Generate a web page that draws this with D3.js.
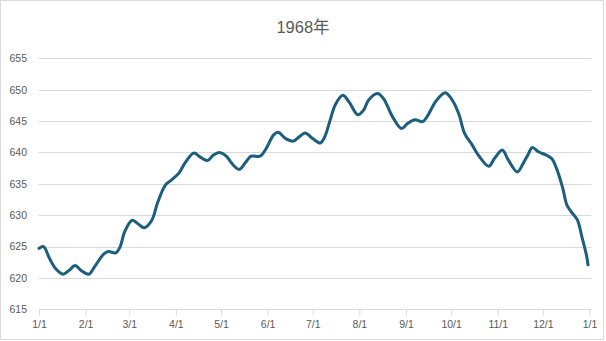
<!DOCTYPE html>
<html>
<head>
<meta charset="utf-8">
<script src="https://cdn.jsdelivr.net/npm/d3@7"></script>
<style>
  html, body { margin: 0; padding: 0; background: #fff; }
  svg { display: block; }
  text { font-family: "Liberation Sans", Arial, "Noto Sans CJK SC", sans-serif; fill: #595959; }
</style>
</head>
<body>
<svg id="chart" width="606" height="341"></svg>
<script>
// Daily series for 1968, sampled at turning points
const dates = [
  "1968-01-01","1968-01-04","1968-01-08","1968-01-12","1968-01-17","1968-01-21","1968-01-25","1968-01-29",
  "1968-02-03","1968-02-07","1968-02-13","1968-02-16","1968-02-21","1968-02-24","1968-02-27",
  "1968-03-03","1968-03-07","1968-03-11","1968-03-16","1968-03-20","1968-03-25","1968-03-29",
  "1968-04-03","1968-04-07","1968-04-13","1968-04-17","1968-04-22","1968-04-26","1968-04-30",
  "1968-05-05","1968-05-08","1968-05-13","1968-05-17","1968-05-21","1968-05-27","1968-05-31",
  "1968-06-05","1968-06-08","1968-06-13","1968-06-18","1968-06-22","1968-06-26",
  "1968-07-01","1968-07-06","1968-07-09","1968-07-13","1968-07-16","1968-07-21","1968-07-25","1968-07-31",
  "1968-08-04","1968-08-07","1968-08-13","1968-08-17","1968-08-23","1968-08-29",
  "1968-09-02","1968-09-07","1968-09-12","1968-09-15","1968-09-21","1968-09-27",
  "1968-10-01","1968-10-06","1968-10-10","1968-10-15","1968-10-19","1968-10-26","1968-10-30",
  "1968-11-04","1968-11-08","1968-11-14","1968-11-18","1968-11-21","1968-11-24","1968-11-28",
  "1968-12-03","1968-12-07","1968-12-10","1968-12-14","1968-12-17","1968-12-20","1968-12-24",
  "1968-12-27","1968-12-30","1968-12-31"
];
const values = [
  624.7, 625.0, 623.1, 621.5, 620.6, 621.2, 622.0, 621.2,
  620.6, 621.8, 623.8, 624.2, 624.0, 625.0, 627.4,
  629.2, 628.6, 628.0, 629.2, 632.1, 634.8, 635.6,
  636.7, 638.3, 639.9, 639.3, 638.7, 639.6, 640.0,
  639.3, 638.3, 637.3, 638.3, 639.4, 639.4, 640.6,
  642.8, 643.2, 642.2, 641.8, 642.5, 643.1,
  642.2, 641.5, 642.5, 645.5, 647.6, 649.1, 648.1, 646.0,
  646.8, 648.3, 649.4, 648.6, 645.7, 643.8,
  644.6, 645.2, 644.9, 645.7, 648.2, 649.5,
  648.6, 646.2, 643.0, 641.2, 639.6, 637.8, 639.1,
  640.4, 638.8, 636.9, 638.3, 639.6, 640.8, 640.1,
  639.6, 639.0, 637.5, 634.5, 631.6, 630.5, 629.2,
  626.5, 623.6, 622.1
];
const yTicks = [615, 620, 625, 630, 635, 640, 645, 650, 655];
const xTickDates = [
  "1968-01-01","1968-02-01","1968-03-01","1968-04-01","1968-05-01","1968-06-01","1968-07-01",
  "1968-08-01","1968-09-01","1968-10-01","1968-11-01","1968-12-01","1969-01-01"
];
const titleText = "1968年";

const parse = d3.timeParse("%Y-%m-%d");
const series = dates.map((d, i) => ({ date: parse(d), value: values[i] }));
const xTicks = xTickDates.map(parse);

const svg = d3.select("#chart");

// Outer chart frame
svg.append("rect")
  .attr("x", 0.5).attr("y", 0.5)
  .attr("width", 603).attr("height", 339)
  .attr("fill", "#fff").attr("stroke", "#d9d9d9");

const x = d3.scaleTime()
  .domain([parse("1968-01-01"), parse("1969-01-01")])
  .range([39, 589.5]);
const y = d3.scaleLinear().domain([615, 655]).range([309.3, 58.3]);

const gridLeft = 38.5, gridRight = 591.5;

// Horizontal gridlines
svg.append("g").selectAll("line")
  .data(yTicks.filter(t => t !== 615))
  .join("line")
  .attr("x1", gridLeft).attr("x2", gridRight)
  .attr("y1", d => Math.round(y(d)) + 0.5).attr("y2", d => Math.round(y(d)) + 0.5)
  .attr("stroke", "#d9d9d9").attr("stroke-width", 1);

// Y axis labels
const yAxis = d3.axisLeft(y).tickValues(yTicks).tickSize(0).tickPadding(0);
const gy = svg.append("g").attr("transform", "translate(27,0)").call(yAxis);
gy.select(".domain").remove();
gy.selectAll("text").attr("font-size", "10.5px").attr("fill", "#595959")
  .style("font-family", "'Liberation Sans', Arial, sans-serif");

// X axis with month ticks
const xAxis = d3.axisBottom(x).tickValues(xTicks)
  .tickFormat(d => (d.getMonth() + 1) + "/" + d.getDate())
  .tickSize(6).tickSizeOuter(0).tickPadding(5);
const gx = svg.append("g").attr("transform", `translate(0,${Math.round(y(615)) + 0.5})`).call(xAxis);
gx.select(".domain").attr("d", `M${gridLeft},0H${gridRight}`).attr("stroke", "#d9d9d9");
gx.selectAll(".tick line").attr("stroke", "#d9d9d9");
gx.selectAll("text").attr("font-size", "10.5px").attr("fill", "#595959")
  .style("font-family", "'Liberation Sans', Arial, sans-serif");

// Data line
const line = d3.line()
  .x(d => x(d.date))
  .y(d => y(d.value))
  .curve(d3.curveCatmullRom.alpha(0.5));

svg.append("path")
  .datum(series)
  .attr("d", line)
  .attr("fill", "none")
  .attr("stroke", "#1b5e7d")
  .attr("stroke-width", 3)
  .attr("stroke-linejoin", "round")
  .attr("stroke-linecap", "round");

// Title
svg.append("text")
  .attr("x", 303).attr("y", 33)
  .attr("text-anchor", "middle")
  .attr("font-size", "16.5px")
  .attr("fill", "#595959")
  .text(titleText);
</script>
</body>
</html>
